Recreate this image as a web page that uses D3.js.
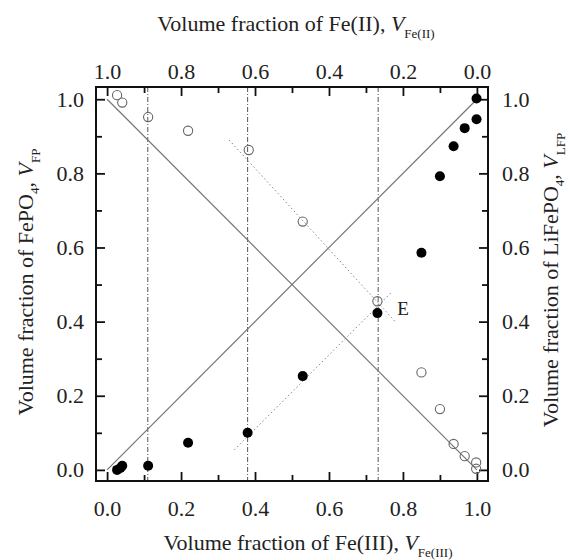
<!DOCTYPE html>
<html>
<head>
<meta charset="utf-8">
<script src="https://cdn.jsdelivr.net/npm/d3@7"></script>
<style>
  body { margin: 0; background: #fff; }
  svg text { font-family: "Liberation Serif", "Times New Roman", serif; fill: #222; }
</style>
</head>
<body>
<svg width="576" height="560"></svg>
<script>
// FePO4 (open circles) and LiFePO4 (filled circles) vs Fe(III) fraction
var fpX  = [0.027, 0.041, 0.111, 0.219, 0.383, 0.529, 0.731, 0.850, 0.900, 0.937, 0.967, 0.998, 0.998];
var fpY  = [1.011, 0.991, 0.952, 0.915, 0.863, 0.670, 0.455, 0.263, 0.164, 0.070, 0.037, 0.020, 0.003];
var lfpX = [0.027, 0.036, 0.041, 0.111, 0.219, 0.380, 0.529, 0.731, 0.850, 0.900, 0.937, 0.967, 0.999, 0.999];
var lfpY = [0.000, 0.005, 0.011, 0.011, 0.073, 0.100, 0.253, 0.423, 0.586, 0.792, 0.873, 0.922, 0.946, 1.002];

var majorTicks = [0, 0.2, 0.4, 0.6, 0.8, 1.0];
var minorTicks = [0.1, 0.3, 0.5, 0.7, 0.9];
var guideX = [0.11, 0.38, 0.733];                 // vertical dash-dot lines
var idealLines = [[[0, 0], [1, 1]], [[0, 1], [1, 0]]];
var trendLines = [[[0.344, 0.054], [0.77, 0.48]], [[0.33, 0.89], [0.779, 0.40]]];
var pointE = [0.80, 0.437];

var serif = "'Liberation Serif', 'Times New Roman', serif";

var svg = d3.select("svg"),
    margin = {top: 87, left: 96},
    width = 392,
    height = 394,
    g = svg.append("g").attr("transform", "translate(" + margin.left + "," + margin.top + ")");

var x = d3.scaleLinear().domain([-0.03, 1.03]).range([0, width]),
    xTop = d3.scaleLinear().domain([1.03, -0.03]).range([0, width]),
    y = d3.scaleLinear().domain([-0.03, 1.033]).range([height, 0]);

var fmt = d3.format(".1f");

function addAxis(axisFn, scale, transform, pad) {
  var major = g.append("g").attr("transform", transform)
      .call(axisFn(scale).tickValues(majorTicks).tickFormat(fmt).tickSize(-9).tickPadding(pad));
  var minor = g.append("g").attr("transform", transform)
      .call(axisFn(scale).tickValues(minorTicks).tickFormat("").tickSize(-6));
  [major, minor].forEach(function(a) {
    a.attr("font-family", serif).attr("font-size", 22);
    a.select(".domain").remove();
    a.selectAll("line").attr("stroke", "#111").attr("stroke-width", 1.8);
    a.selectAll("text").style("font-family", serif).style("font-size", "22px").attr("fill", "#222");
  });
  return major;
}

addAxis(d3.axisBottom, x, "translate(0," + height + ")", 19);
addAxis(d3.axisTop, xTop, "translate(0,0)", 8);
addAxis(d3.axisLeft, y, "translate(0,0)", 12);
addAxis(d3.axisRight, y, "translate(" + width + ",0)", 14);

// guide lines
g.selectAll(".guide")
  .data(guideX)
  .enter().append("line")
    .attr("x1", d => x(d)).attr("x2", d => x(d))
    .attr("y1", 0).attr("y2", height)
    .attr("stroke", "#555").attr("stroke-width", 1)
    .attr("stroke-dasharray", "5,2,1,2");

var line = d3.line().x(d => x(d[0])).y(d => y(d[1]));

g.selectAll(".ideal")
  .data(idealLines)
  .enter().append("path")
    .attr("d", line)
    .attr("fill", "none").attr("stroke", "#777").attr("stroke-width", 1.2);

g.selectAll(".trend")
  .data(trendLines)
  .enter().append("path")
    .attr("d", line)
    .attr("fill", "none").attr("stroke", "#888").attr("stroke-width", 1)
    .attr("stroke-dasharray", "1.5,2.5");

// points
g.selectAll(".fp")
  .data(fpX.map((v, i) => [v, fpY[i]]))
  .enter().append("circle")
    .attr("cx", d => x(d[0])).attr("cy", d => y(d[1]))
    .attr("r", 4.6)
    .attr("fill", "none").attr("stroke", "#666").attr("stroke-width", 1.1);

g.selectAll(".lfp")
  .data(lfpX.map((v, i) => [v, lfpY[i]]))
  .enter().append("circle")
    .attr("cx", d => x(d[0])).attr("cy", d => y(d[1]))
    .attr("r", 5)
    .attr("fill", "#000");

g.append("text")
  .attr("x", x(pointE[0])).attr("y", y(pointE[1]))
  .attr("text-anchor", "middle").attr("dy", "0.35em")
  .style("font-size", "19px")
  .text("E");

// frame
g.append("rect")
  .attr("width", width).attr("height", height)
  .attr("fill", "none").attr("stroke", "#111").attr("stroke-width", 2);

// axis titles with subscripts
function title(sel, parts) {
  parts.forEach(function(p) {
    var t = sel.append("tspan").text(p.t);
    if (p.sub) t.attr("dy", p.sub).style("font-size", "13px");
    if (p.up) t.attr("dy", p.up);
    if (p.it) t.style("font-style", "italic");
  });
}

var tb = svg.append("text").attr("x", 308).attr("y", 550).attr("text-anchor", "middle").style("font-size", "22px");
title(tb, [{t: "Volume fraction of Fe(III), "}, {t: "V", it: true}, {t: "Fe(III)", sub: 7}]);

var tt = svg.append("text").attr("x", 296).attr("y", 31).attr("text-anchor", "middle").style("font-size", "22px");
title(tt, [{t: "Volume fraction of Fe(II), "}, {t: "V", it: true}, {t: "Fe(II)", sub: 7}]);

var tl = svg.append("text").attr("transform", "translate(33,282) rotate(-90)").attr("text-anchor", "middle").style("font-size", "22px");
title(tl, [{t: "Volume fraction of FePO"}, {t: "4", sub: 6}, {t: ", ", up: -6}, {t: "V", it: true}, {t: "FP", sub: 7}]);

var tr = svg.append("text").attr("transform", "translate(558,280) rotate(-90)").attr("text-anchor", "middle").style("font-size", "22px");
title(tr, [{t: "Volume fraction of LiFePO"}, {t: "4", sub: 6}, {t: ", ", up: -6}, {t: "V", it: true}, {t: "LFP", sub: 7}]);
</script>
</body>
</html>
